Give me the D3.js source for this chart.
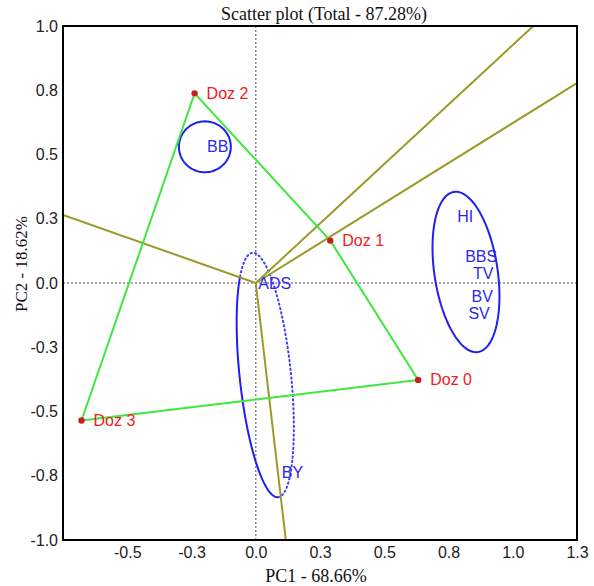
<!DOCTYPE html>
<html><head><meta charset="utf-8">
<script src="https://cdn.jsdelivr.net/npm/d3@7"></script>
<style>body{margin:0;background:#fff}</style>
</head><body>
<svg id="chart" width="594" height="586"></svg>
<script>
// ---- data ----
const titleText = "Scatter plot (Total - 87.28%)";
const xLabel = "PC1 - 68.66%";
const yLabel = "PC2 - 18.62%";
const xTicks = [-0.5, -0.25, 0, 0.25, 0.5, 0.75, 1.0, 1.25];
const yTicks = [-1.0, -0.75, -0.5, -0.25, 0, 0.25, 0.5, 0.75, 1.0];
// treatment scores (red points, connected by the green hull)
const dozNames = ["Doz 2", "Doz 1", "Doz 0", "Doz 3"];
const dozX = [-0.238, 0.290, 0.632, -0.678];
const dozY = [0.738, 0.165, -0.377, -0.535];
// loading vectors from origin (olive lines)
const loadX = [1.08, 1.25, -0.75, 0.117];
const loadY = [1.0, 0.778, 0.265, -1.0];
// variable labels (blue)
const varNames = ["ADS", "BY", "HI", "BBS", "TV", "BV", "SV", "BB"];
const varX = [0.074, 0.143, 0.815, 0.877, 0.885, 0.881, 0.869, -0.148];
const varY = [0.0, -0.737, 0.261, 0.103, 0.037, -0.051, -0.117, 0.533];
// grouping ellipses: centre, semi-axis along x, semi-axis along y, tilt (deg)
const ellCX = [0.818, -0.198, 0.037];
const ellCY = [0.043, 0.530, -0.358];
const ellRX = [0.123, 0.101, 0.100];
const ellRY = [0.315, 0.099, 0.478];
const ellTilt = [8.5, 0, 6.0];
const ellStyle = ["solid", "solid", "half"];

// ---- layout ----
const svg = d3.select("#chart");
const L = 63, R = 577, T = 26, B = 540;
const x = d3.scaleLinear().domain([-0.75, 1.25]).range([L, R]);
const y = d3.scaleLinear().domain([-1, 1]).range([B, T]);
const fmt = d => (d < 0 ? "-" : "") + Math.abs(d).toFixed(1);

const olive = "#9a9a28", green = "#3ee83e", blue = "#1f1ff0", red = "#f02020";

svg.append("defs").append("clipPath").attr("id", "clip")
  .append("rect").attr("x", L).attr("y", T).attr("width", R - L).attr("height", B - T);

const plot = svg.append("g").attr("clip-path", "url(#clip)");

// zero lines
plot.append("line").attr("x1", x(0)).attr("x2", x(0)).attr("y1", T).attr("y2", B)
  .attr("stroke", "#888").attr("stroke-width", 1.5).attr("stroke-dasharray", "2,2");
plot.append("line").attr("x1", L).attr("x2", R).attr("y1", y(0)).attr("y2", y(0))
  .attr("stroke", "#888").attr("stroke-width", 1.5).attr("stroke-dasharray", "2,2");

// ellipses
function ellPts(i, t0, t1, n) {
  const cx = x(ellCX[i]), cy = y(ellCY[i]);
  const a = Math.abs(y(ellRY[i]) - y(0)); // along major (vertical) axis
  const b = Math.abs(x(ellRX[i]) - x(0));
  const phi = ellTilt[i] * Math.PI / 180;
  const u = [Math.sin(phi), Math.cos(phi)];   // major axis pointing down
  const v = [Math.cos(phi), -Math.sin(phi)];  // minor axis pointing right
  const pts = [];
  for (let k = 0; k <= n; k++) {
    const t = t0 + (t1 - t0) * k / n;
    pts.push([cx + a * Math.cos(t) * u[0] + b * Math.sin(t) * v[0],
              cy + a * Math.cos(t) * u[1] + b * Math.sin(t) * v[1]]);
  }
  return pts;
}
const line = d3.line();
ellCX.forEach((_, i) => {
  if (ellStyle[i] === "solid") {
    plot.append("path").attr("d", line(ellPts(i, 0, 2 * Math.PI, 120)) + "Z")
      .attr("fill", "none").attr("stroke", blue).attr("stroke-width", 2);
  } else {
    const tS = -144 * Math.PI / 180;
    plot.append("path").attr("d", line(ellPts(i, tS, 0, 100)))
      .attr("fill", "none").attr("stroke", blue).attr("stroke-width", 2);
    plot.append("path").attr("d", line(ellPts(i, 0, 2 * Math.PI + tS, 150)))
      .attr("fill", "none").attr("stroke", "#3b3bff").attr("stroke-width", 2)
      .attr("stroke-dasharray", "1.2,3.2").attr("stroke-linecap", "round");
  }
});

// loading lines
loadX.forEach((lx, i) => {
  plot.append("line").attr("x1", x(0)).attr("y1", y(0)).attr("x2", x(lx)).attr("y2", y(loadY[i]))
    .attr("stroke", olive).attr("stroke-width", 2);
});

// green hull
const hull = dozX.map((d, i) => [x(d), y(dozY[i])]);
plot.append("path").attr("d", line(hull) + "Z").attr("fill", "none")
  .attr("stroke", green).attr("stroke-width", 2);

// doz points and labels
dozX.forEach((d, i) => {
  plot.append("circle").attr("cx", x(d)).attr("cy", y(dozY[i])).attr("r", 3.2).attr("fill", "#cc1c1c");
  plot.append("text").attr("x", x(d) + 12).attr("y", y(dozY[i]) + 5.5)
    .attr("font-family", "Liberation Sans, Arial, sans-serif").attr("font-size", 16)
    .attr("fill", red).text(dozNames[i]);
});

// variable labels
varNames.forEach((n, i) => {
  plot.append("text").attr("x", x(varX[i])).attr("y", y(varY[i]) + 5.7)
    .attr("text-anchor", "middle")
    .attr("font-family", "Liberation Sans, Arial, sans-serif").attr("font-size", 16)
    .attr("fill", "#2a2ae8").text(n);
});

// frame
svg.append("rect").attr("x", L).attr("y", T).attr("width", R - L).attr("height", B - T)
  .attr("fill", "none").attr("stroke", "#000").attr("stroke-width", 2);

// axes
const xAxis = svg.append("g").attr("transform", `translate(0,${B})`)
  .call(d3.axisBottom(x).tickValues(xTicks).tickFormat(fmt).tickSize(0).tickPadding(7));
const yAxis = svg.append("g").attr("transform", `translate(${L},0)`)
  .call(d3.axisLeft(y).tickValues(yTicks).tickFormat(fmt).tickSize(0).tickPadding(5));
[xAxis, yAxis].forEach(g => {
  g.select(".domain").remove();
  g.selectAll("text").attr("font-family", "Liberation Sans, Arial, sans-serif")
    .attr("font-size", 16).attr("fill", "#222");
});

// titles
svg.append("text").attr("x", (L + R) / 2 + 4).attr("y", 20).attr("text-anchor", "middle")
  .attr("font-family", "Liberation Serif, Times New Roman, serif").attr("font-size", 18)
  .attr("fill", "#111").text(titleText);
svg.append("text").attr("x", (L + R) / 2 - 4).attr("y", 582).attr("text-anchor", "middle")
  .attr("font-family", "Liberation Serif, Times New Roman, serif").attr("font-size", 18)
  .attr("fill", "#111").text(xLabel);
svg.append("text").attr("transform", `translate(27,264) rotate(-90)`).attr("text-anchor", "middle")
  .attr("font-family", "Liberation Serif, Times New Roman, serif").attr("font-size", 17)
  .attr("fill", "#111").text(yLabel);
</script>
</body></html>
